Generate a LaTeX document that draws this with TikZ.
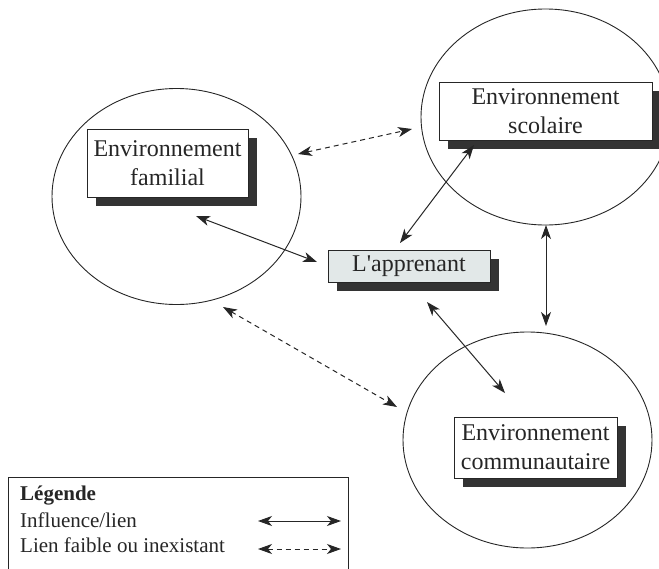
\documentclass[tikz,border=0pt]{standalone}
\usepackage{fontspec}
\setmainfont{Liberation Serif}
\newfontfamily\plainserif{Liberation Serif}
\usetikzlibrary{arrows.meta,shapes.geometric,shadows}
\definecolor{ink}{HTML}{262626}
\definecolor{shade}{HTML}{333333}
\definecolor{learner}{HTML}{E2E8E8}
\begin{document}
\begin{tikzpicture}[x=1pt,y=-1pt,
  envellipse/.style={draw=ink,line width=0.9pt,ellipse,inner sep=0pt,minimum width=249pt,minimum height=216pt},
  envbox/.style={draw=ink,line width=0.9pt,fill=white,align=center,text=ink,
    font=\fontsize{24}{29}\selectfont,inner sep=0pt,
    drop shadow={shadow xshift=9pt,shadow yshift=-9pt,fill=shade,opacity=1}},
  link/.style={draw=ink,line width=1pt,{Stealth[length=14pt,width=10pt,inset=4pt]}-{Stealth[length=14pt,width=10pt,inset=4pt]}},
  weak/.style={link,dash pattern=on 5pt off 4pt},
  legtext/.style={anchor=base west,text=ink,font=\fontsize{21}{24}\selectfont,inner sep=0pt}]
\useasboundingbox (0,0) rectangle (659,568);
\begin{scope}
\clip (0,0) rectangle (659,568);
% ellipses
\node[envellipse] (fam) at (176.5,196.5) {};
\node[envellipse] (sco) at (545.5,117) {};
\node[envellipse] (com) at (527.5,440) {};
% boxes
\node[envbox,minimum width=161pt,minimum height=68pt] (famb) at (167.5,163) {Environnement\\familial};
\node[envbox,minimum width=213pt,minimum height=58pt] (scob) at (545.5,111) {Environnement\\scolaire};
\node[envbox,minimum width=163pt,minimum height=61pt] (comb) at (535.5,447.5) {Environnement\\communautaire};
\node[envbox,fill=learner,minimum width=162pt,minimum height=32pt] (app) at (409,266) {\plainserif L'apprenant};
% connector endpoints
\coordinate (a1) at (298,154); \coordinate (a2) at (412,129);
\coordinate (b1) at (196,216); \coordinate (b2) at (317,262);
\coordinate (c1) at (400,243); \coordinate (c2) at (474,145);
\coordinate (d1) at (546,225); \coordinate (d2) at (546,326);
\coordinate (e1) at (427,302); \coordinate (e2) at (505,393);
\coordinate (f1) at (223,307); \coordinate (f2) at (397,407);
\draw[weak] (a1) -- (a2);
\draw[link] (b1) -- (b2);
\draw[link] (c1) -- (c2);
\draw[link] (d1) -- (d2);
\draw[link] (e1) -- (e2);
\draw[weak] (f1) -- (f2);
% legend
\node[draw=ink,line width=0.9pt,fill=white,minimum width=340pt,minimum height=100pt,inner sep=0pt,anchor=north west] (leg) at (8,477) {};
\end{scope}
\node[legtext,font=\fontsize{21}{24}\selectfont\bfseries] (lt) at (20,500) {Légende};
\node[legtext] (l1) at (20,527) {Influence/lien};
\node[legtext] (l2) at (20,552) {Lien faible ou inexistant};
\coordinate (g1) at (258,521); \coordinate (g2) at (341,521);
\coordinate (h1) at (258,549); \coordinate (h2) at (341,549);
\draw[link] (g1) -- (g2);
\draw[weak] (h1) -- (h2);
\end{tikzpicture}
\end{document}
